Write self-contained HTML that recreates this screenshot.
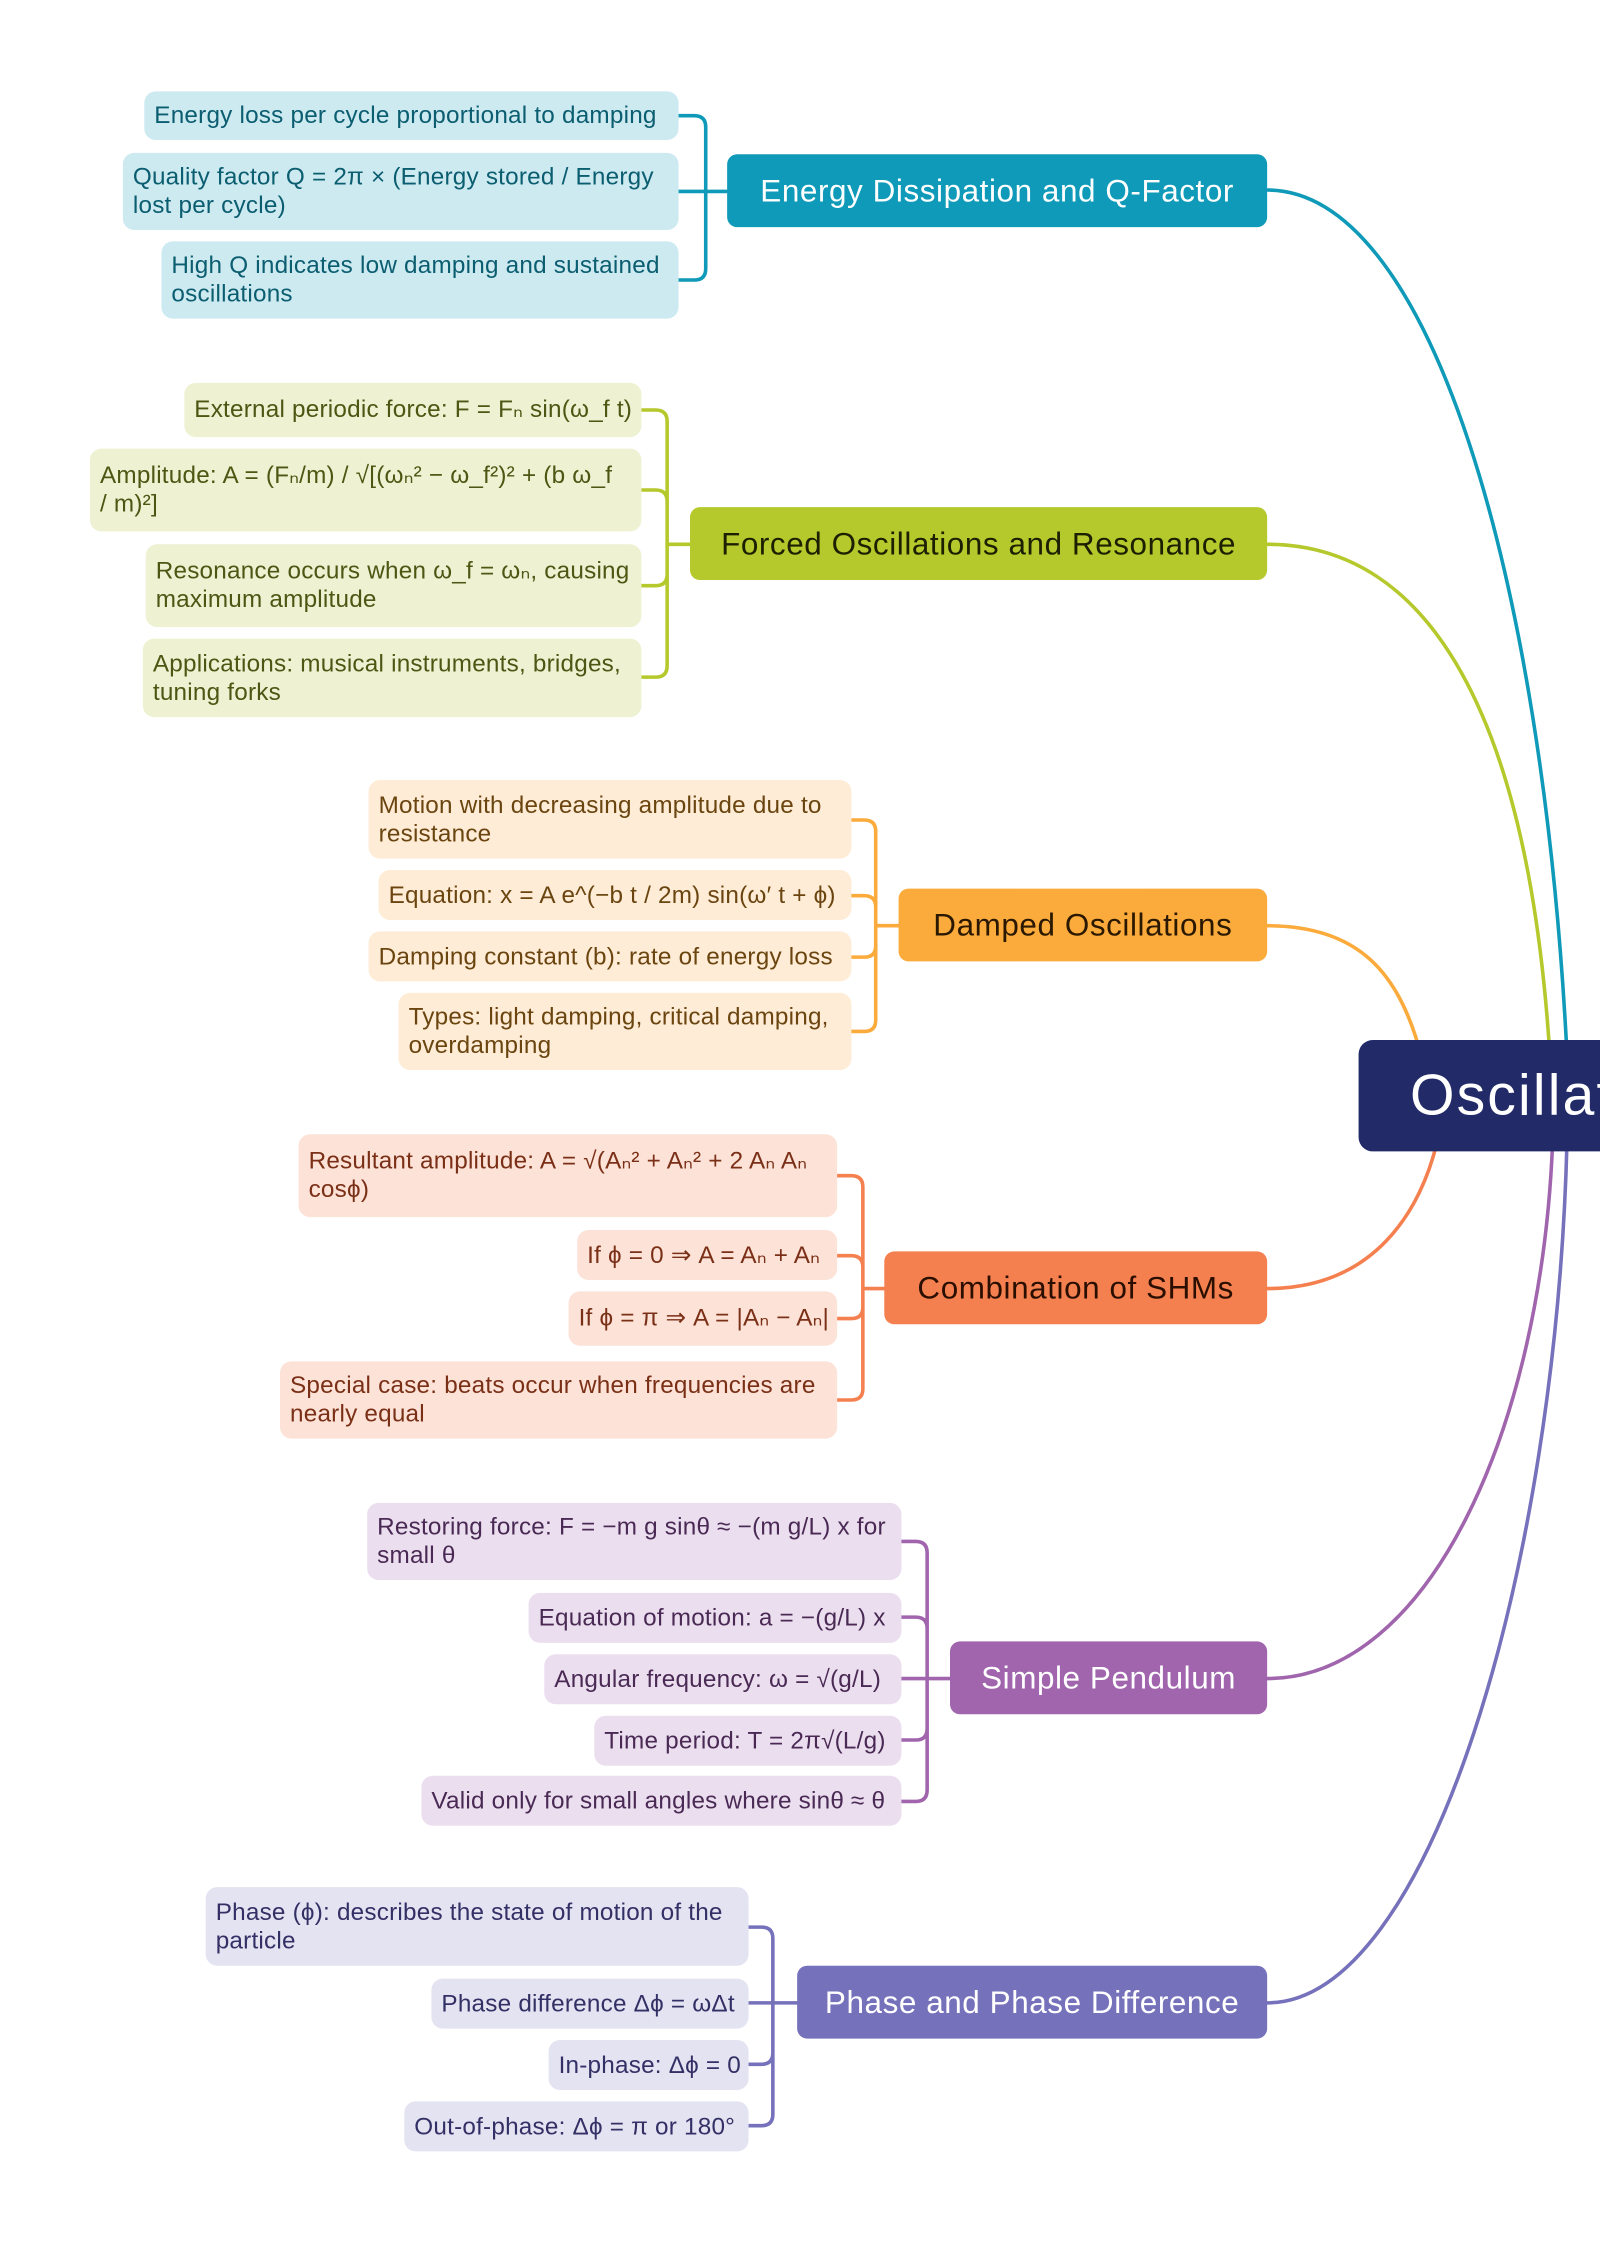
<!DOCTYPE html>
<html><head><meta charset="utf-8"><style>
html,body{margin:0;padding:0;background:#fff;}
body{width:1600px;height:2241px;overflow:hidden;position:relative;}
#w{position:absolute;left:0;top:0;width:1120px;height:1569px;overflow:hidden;transform:scale(1.4285714);transform-origin:0 0;font-family:"Liberation Sans",sans-serif;}
.l{position:absolute;border-radius:8px;font-size:17px;line-height:20px;padding:0 7px;box-sizing:border-box;display:flex;align-items:center;white-space:nowrap;letter-spacing:0.15px;}
.b{position:absolute;border-radius:7px;font-size:22px;letter-spacing:0.4px;display:flex;align-items:center;justify-content:center;box-sizing:border-box;white-space:nowrap;}
.e{background:#cdeaf1;color:#0b5d70}.f{background:#eef2d3;color:#4d5613}.d{background:#feecd6;color:#6b4510}
.c{background:#fde2d8;color:#7a3016}.p{background:#ebdfef;color:#4a2a55}.h{background:#e3e3f1;color:#333066}
svg{position:absolute;left:0;top:0}
</style></head><body><div id="w">
<svg width="1120" height="1569" fill="none" stroke-width="2.5" stroke-linecap="round">
<g stroke="#0e9ab8"><path d="M887,133 C1000,133 1080,400 1097,740"/><path d="M475,81 H486 Q494,81 494,89 V188 Q494,196 486,196 H475 M475,134 H509"/></g>
<g stroke="#b5c92c"><path d="M887,381 C1000,381 1070,500 1085,740"/><path d="M449,287 H459 Q467,287 467,295 V466 Q467,474 459,474 H449 M449,343 H459 Q467,343 467,351 M449,410 H459 Q467,410 467,402 M467,381 H483"/></g>
<g stroke="#fbab3b"><path d="M887,648 C950,648 980,680 995,740"/><path d="M596,574 H605 Q613,574 613,582 V714 Q613,722 605,722 H596 M596,627 H605 Q613,627 613,635 M596,670 H605 Q613,670 613,662 M613,648 H629"/></g>
<g stroke="#f5804f"><path d="M887,902 C960,902 995,850 1007,795"/><path d="M586,823 H596 Q604,823 604,831 V972 Q604,980 596,980 H586 M586,879 H596 Q604,879 604,887 M586,923 H596 Q604,923 604,915 M604,902 H619"/></g>
<g stroke="#a065ad"><path d="M887,1175 C1000,1175 1080,1000 1087,795"/><path d="M631,1079 H641 Q649,1079 649,1087 V1253 Q649,1261 641,1261 H631 M631,1132 H641 Q649,1132 649,1140 M631,1218 H641 Q649,1218 649,1210 M631,1175 H665"/></g>
<g stroke="#7671bb"><path d="M887,1402 C1000,1402 1090,1100 1097,795"/><path d="M524,1349 H533 Q541,1349 541,1357 V1480 Q541,1488 533,1488 H524 M524,1402 H558 M524,1445 H533 Q541,1445 541,1437"/></g>
</svg>
<div class="b" style="left:951px;top:728px;width:169px;height:78px;overflow:hidden;background:#222a68;color:#fff;font-size:40px;letter-spacing:1.5px;justify-content:flex-start;padding-left:36px;border-radius:10px 0 0 10px">Oscillations</div>
<div class="b" style="left:509px;top:108px;width:378px;height:51px;background:#0e9ab8;color:#fff">Energy Dissipation and Q-Factor</div>
<div class="b" style="left:483px;top:355px;width:404px;height:51px;background:#b5c92c;color:#1c2000">Forced Oscillations and Resonance</div>
<div class="b" style="left:629px;top:622px;width:258px;height:51px;background:#fbab3b;color:#2a1800">Damped Oscillations</div>
<div class="b" style="left:619px;top:876px;width:268px;height:51px;background:#f5804f;color:#2a0e00">Combination of SHMs</div>
<div class="b" style="left:665px;top:1149px;width:222px;height:51px;background:#a065ad;color:#fff">Simple Pendulum</div>
<div class="b" style="left:558px;top:1376px;width:329px;height:51px;background:#7671bb;color:#fff">Phase and Phase Difference</div>

<div class="l e" style="left:101px;top:64px;width:374px;height:34px">Energy loss per cycle proportional to damping</div>
<div class="l e" style="left:86px;top:107px;width:389px;height:54px">Quality factor Q = 2π × (Energy stored / Energy<br>lost per cycle)</div>
<div class="l e" style="left:113px;top:169px;width:362px;height:54px">High Q indicates low damping and sustained<br>oscillations</div>

<div class="l f" style="left:129px;top:268px;width:320px;height:38px">External periodic force: F = Fₙ sin(ω_f t)</div>
<div class="l f" style="left:63px;top:314px;width:386px;height:58px">Amplitude: A = (Fₙ/m) / √[(ωₙ² − ω_f²)² + (b ω_f<br>/ m)²]</div>
<div class="l f" style="left:102px;top:381px;width:347px;height:58px">Resonance occurs when ω_f = ωₙ, causing<br>maximum amplitude</div>
<div class="l f" style="left:100px;top:447px;width:349px;height:55px">Applications: musical instruments, bridges,<br>tuning forks</div>

<div class="l d" style="left:258px;top:546px;width:338px;height:55px">Motion with decreasing amplitude due to<br>resistance</div>
<div class="l d" style="left:265px;top:609px;width:331px;height:35px">Equation: x = A e^(−b t / 2m) sin(ω′ t + ϕ)</div>
<div class="l d" style="left:258px;top:652px;width:338px;height:35px">Damping constant (b): rate of energy loss</div>
<div class="l d" style="left:279px;top:695px;width:317px;height:54px">Types: light damping, critical damping,<br>overdamping</div>

<div class="l c" style="left:209px;top:794px;width:377px;height:58px">Resultant amplitude: A = √(Aₙ² + Aₙ² + 2 Aₙ Aₙ<br>cosϕ)</div>
<div class="l c" style="left:404px;top:861px;width:182px;height:35px">If ϕ = 0 ⇒ A = Aₙ + Aₙ</div>
<div class="l c" style="left:398px;top:904px;width:188px;height:38px">If ϕ = π ⇒ A = |Aₙ − Aₙ|</div>
<div class="l c" style="left:196px;top:953px;width:390px;height:54px">Special case: beats occur when frequencies are<br>nearly equal</div>

<div class="l p" style="left:257px;top:1052px;width:374px;height:54px">Restoring force: F = −m g sinθ ≈ −(m g/L) x for<br>small θ</div>
<div class="l p" style="left:370px;top:1115px;width:261px;height:35px">Equation of motion: a = −(g/L) x</div>
<div class="l p" style="left:381px;top:1158px;width:250px;height:35px">Angular frequency: ω = √(g/L)</div>
<div class="l p" style="left:416px;top:1201px;width:215px;height:35px">Time period: T = 2π√(L/g)</div>
<div class="l p" style="left:295px;top:1243px;width:336px;height:35px">Valid only for small angles where sinθ ≈ θ</div>

<div class="l h" style="left:144px;top:1321px;width:380px;height:55px">Phase (ϕ): describes the state of motion of the<br>particle</div>
<div class="l h" style="left:302px;top:1385px;width:222px;height:35px">Phase difference Δϕ = ωΔt</div>
<div class="l h" style="left:384px;top:1428px;width:140px;height:35px">In-phase: Δϕ = 0</div>
<div class="l h" style="left:283px;top:1471px;width:241px;height:35px">Out-of-phase: Δϕ = π or 180°</div>
</div></body></html>
